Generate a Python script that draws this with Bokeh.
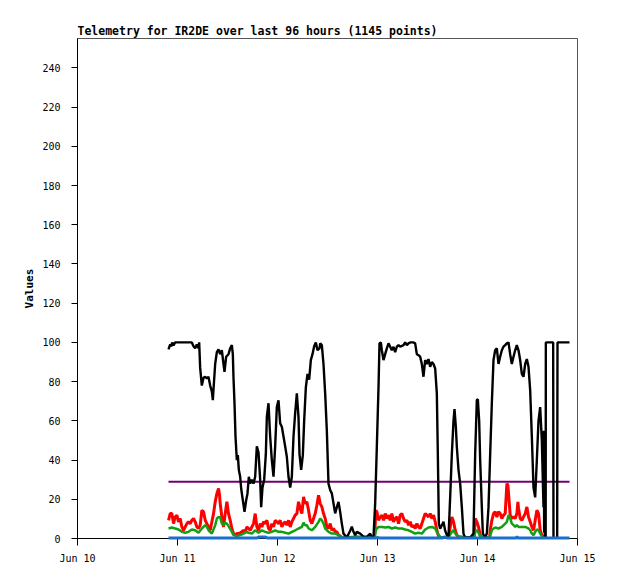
import pandas as pd
from bokeh.plotting import figure
from bokeh.models import FixedTicker, DatetimeTickFormatter, Range1d
from bokeh.embed import file_html
from bokeh.resources import INLINE

BASE = "2024-06-10"
day_ticks = ["2024-06-10", "2024-06-11", "2024-06-12", "2024-06-13", "2024-06-14", "2024-06-15"]
y_ticks = [0, 20, 40, 60, 80, 100, 120, 140, 160, 180, 200, 220, 240]
title_text = "Telemetry for IR2DE over last 96 hours (1145 points)"

# (hours since Jun 10 00:00, value)
black_pts = [
    (21.84, 96.4), (22.24, 99), (22.48, 98), (22.72, 100), (23.04, 98.5), (23.44, 100), (27.44, 100),
    (27.84, 98), (28.24, 97), (28.64, 99), (29.04, 97), (29.2, 100), (29.44, 87), (29.84, 78),
    (30.24, 82), (30.64, 82.5), (31.04, 81.6), (31.44, 82.5), (31.84, 78), (32.24, 75), (32.48, 70.6),
    (32.64, 76), (33.04, 89), (33.44, 95), (33.84, 96.4), (34.24, 94), (34.64, 96), (35.04, 89),
    (35.28, 85), (35.68, 92.7), (36.24, 94), (36.64, 97), (37.04, 98.6), (37.28, 94), (37.44, 82),
    (37.68, 69), (37.92, 52), (38.24, 40), (38.48, 42.5), (38.72, 35), (39.04, 31.5), (39.28, 25.5),
    (39.68, 19.5), (40.08, 13.6), (40.48, 19.5), (40.8, 23), (41.12, 31.5), (41.44, 28), (41.84, 30),
    (42.24, 28), (42.64, 31.5), (43.04, 47), (43.44, 44), (43.84, 30), (44.08, 16), (44.4, 26),
    (44.8, 30), (45.2, 43), (45.44, 62), (45.84, 69), (46.24, 52), (46.64, 40), (47.04, 31.5),
    (47.44, 47), (47.84, 67), (48.24, 70.5), (48.64, 58.7), (49.04, 57), (49.44, 52), (49.84, 47),
    (50.24, 41.7), (50.64, 31.5), (51.04, 26), (51.44, 31.5), (51.84, 52), (52.24, 64), (52.64, 74),
    (53.04, 62), (53.28, 43), (53.68, 35), (54.08, 42.5), (54.4, 60), (54.8, 77), (55.2, 84),
    (55.6, 81), (56.0, 91), (56.4, 94), (56.8, 98), (57.2, 100), (57.6, 96), (58.08, 97),
    (58.24, 99.5), (58.64, 98.6), (59.04, 89), (59.44, 74), (59.84, 55), (60.24, 28), (60.64, 24.7),
    (61.04, 23), (61.44, 17.9), (61.84, 12.8), (62.24, 16), (62.64, 18.7), (63.04, 13.6), (63.44, 7.6),
    (63.84, 2.5), (64.64, 0.5), (65.44, 4), (65.84, 6), (66.24, 3.4), (66.64, 1.7), (67.04, 3.4),
    (67.84, 2.5), (68.64, 1), (69.44, 0.8), (70.24, 2.5), (70.64, 0.5), (71.04, 0.8), (71.44, 17.9),
    (71.84, 46.8), (72.24, 77), (72.48, 99.5), (72.8, 100), (73.04, 96), (73.44, 91), (73.84, 94),
    (74.24, 97), (74.64, 99.5), (75.04, 97.8), (75.44, 96), (75.84, 97.8), (76.24, 95), (76.64, 97.8),
    (77.04, 98.6), (77.44, 97.8), (78.24, 98.6), (78.64, 100), (79.04, 98.6), (79.44, 99.5),
    (79.84, 100), (80.64, 100), (81.04, 99.5), (81.44, 94), (81.84, 93.5), (82.24, 92.7), (82.64, 89),
    (83.04, 82.5), (83.44, 91), (83.84, 89), (84.24, 91.5), (84.64, 87.6), (85.04, 90), (85.44, 89),
    (85.84, 86.7), (86.24, 74), (86.48, 43), (86.72, 7.6), (87.04, 5), (87.44, 6.8), (87.84, 8.5),
    (88.24, 4), (88.64, 1.7), (89.04, 0.8), (89.44, 21), (89.84, 43), (90.24, 60), (90.48, 66),
    (90.8, 57), (91.04, 46.8), (91.44, 35), (91.84, 28), (92.24, 16), (92.64, 2.5), (93.04, 0.5),
    (94.24, 0.5), (95.04, 2.5), (95.44, 43), (95.84, 70.6), (96.08, 71), (96.4, 60), (96.64, 40),
    (97.04, 16), (97.28, 2.5), (97.84, 0.8), (98.24, 2.5), (98.64, 16), (99.04, 43), (99.44, 69),
    (99.84, 91), (100.24, 96), (100.64, 97), (101.04, 89), (101.44, 92.7), (101.84, 96), (102.24, 97.8),
    (102.64, 98.6), (103.04, 99.5), (103.44, 100), (103.84, 94), (104.24, 89), (104.64, 92.7),
    (105.04, 96), (105.44, 98.6), (105.84, 96), (106.24, 91), (106.64, 84), (107.04, 82.5),
    (107.44, 89), (107.84, 91.5), (108.24, 87.6), (108.64, 75.7), (109.04, 52), (109.44, 26),
    (109.84, 21), (110.24, 40), (110.64, 60), (111.04, 67), (111.44, 50), (111.84, 16), (111.92, 55),
    (112.0, 3), (112.08, 50), (112.16, 0), (112.36, 0), (112.4, 100), (114.16, 100), (114.24, 0),
    (115.12, 0), (115.2, 100), (118.08, 100),
]

red_pts = [
    (21.85, 9.3), (22.25, 12.7), (22.65, 12.7), (23.05, 7.6), (23.45, 11.0), (23.85, 11.9), (24.25, 8.5),
    (24.65, 10.2), (25.05, 5.9), (25.45, 4.2), (25.85, 5.9), (26.25, 7.6), (26.65, 8.5), (27.05, 7.6),
    (27.45, 9.3), (27.85, 10.2), (28.25, 8.5), (28.65, 5.9), (29.05, 5.1), (29.45, 6.8), (29.85, 14.4),
    (30.25, 13.6), (30.65, 9.3), (31.05, 7.6), (31.45, 5.9), (31.85, 4.2), (32.25, 8.5), (32.65, 12.7),
    (33.05, 18.7), (33.45, 22.9), (33.85, 25.5), (34.09, 22.1), (34.25, 17.8), (34.65, 11.0),
    (35.05, 5.9), (35.45, 12.7), (35.85, 18.7), (36.25, 12.7), (36.65, 9.3), (37.05, 5.1), (37.45, 2.5),
    (37.85, 1.7), (38.25, 2.5), (38.65, 2.5), (39.05, 2.9), (39.45, 3.4), (39.85, 4.2), (40.25, 3.4),
    (40.65, 5.9), (41.05, 5.1), (41.45, 4.2), (41.85, 5.9), (42.25, 7.6), (42.65, 12.7), (43.05, 5.9),
    (43.45, 4.2), (43.85, 7.6), (44.25, 5.9), (44.65, 8.5), (45.05, 7.6), (45.45, 9.3), (45.85, 5.1),
    (46.25, 4.2), (46.65, 7.6), (47.05, 5.9), (47.45, 9.3), (47.85, 8.5), (48.25, 7.6), (48.65, 9.3),
    (49.05, 5.9), (49.45, 7.6), (49.85, 8.5), (50.25, 6.8), (50.65, 9.3), (51.05, 5.9), (51.45, 8.5),
    (51.85, 10.2), (52.25, 11.9), (52.65, 12.7), (53.05, 18.7), (53.45, 15.3), (53.85, 12.7),
    (54.25, 21.2), (54.65, 17.8), (55.05, 18.7), (55.45, 14.4), (55.85, 9.3), (56.25, 7.6),
    (56.65, 10.2), (57.05, 12.7), (57.45, 17.0), (57.85, 22.1), (58.25, 17.8), (58.65, 16.1),
    (59.05, 12.7), (59.45, 10.2), (59.85, 5.9), (60.25, 5.1), (60.65, 7.6), (61.05, 4.2), (61.45, 5.1),
    (61.85, 3.4), (62.25, 3.4), (62.65, 1.7), (63.05, 1.2), (63.45, 0.6), (65.0, 0.5), (67.0, 0.8),
    (69.0, 0.5), (71.3, 0.5), (71.61, 14.4), (71.85, 13.6), (72.25, 9.3), (72.65, 11.0), (73.05, 11.9),
    (73.45, 9.3), (73.85, 12.7), (74.25, 10.2), (74.65, 11.9), (75.05, 9.3), (75.45, 12.7), (75.85, 8.5),
    (76.25, 10.2), (76.65, 11.0), (77.05, 7.6), (77.45, 11.9), (77.85, 12.7), (78.25, 10.2),
    (78.65, 8.5), (79.05, 9.3), (79.45, 6.8), (79.85, 8.5), (80.25, 5.9), (80.65, 6.8), (81.05, 5.1),
    (81.45, 7.6), (81.85, 5.9), (82.25, 5.1), (82.65, 7.6), (83.05, 10.2), (83.45, 12.7), (83.85, 11.9),
    (84.25, 11.0), (84.65, 12.7), (85.05, 10.2), (85.45, 11.9), (85.85, 8.5), (86.25, 4.2),
    (86.65, 1.2), (87.05, 0.6), (88.0, 0.5), (89.0, 0.5), (89.45, 5.9), (89.85, 11.0), (90.25, 8.5),
    (90.65, 4.2), (91.05, 1.7), (91.45, 0.8), (93.0, 0.5), (95.2, 0.5), (95.45, 10.2), (95.85, 8.5),
    (96.25, 5.9), (96.65, 1.7), (97.05, 0.8), (98.0, 0.5), (98.9, 0.5), (99.05, 4.2), (99.45, 9.3),
    (99.85, 12.7), (100.25, 13.6), (100.65, 11.0), (101.05, 13.6), (101.45, 12.7), (101.85, 10.2),
    (102.25, 11.9), (102.65, 12.7), (103.05, 28.0), (103.29, 27.2), (103.45, 22.9), (103.85, 11.9),
    (104.25, 10.2), (104.65, 11.0), (105.05, 10.2), (105.45, 12.7), (105.69, 18.7), (105.85, 15.3),
    (106.25, 10.2), (106.65, 9.3), (107.05, 11.0), (107.45, 12.7), (107.85, 16.1), (108.25, 11.0),
    (108.65, 8.5), (109.05, 5.9), (109.45, 4.2), (109.85, 9.3), (110.25, 14.4), (110.65, 12.7),
    (111.05, 4.2), (111.45, 1.7), (111.85, 0.5), (112.2, 0.3),
]

green_pts = [
    (21.85, 5.1), (22.65, 5.6), (23.45, 5.1), (24.25, 4.6), (25.05, 3.4), (25.85, 2.9), (26.65, 3.4),
    (27.45, 4.6), (28.25, 4.2), (29.05, 2.9), (29.85, 5.1), (30.65, 6.8), (31.05, 5.9), (31.45, 4.2),
    (32.25, 2.5), (33.05, 6.8), (33.45, 10.2), (33.85, 11.0), (34.25, 10.7), (34.65, 7.6), (35.05, 6.8),
    (35.45, 8.0), (35.85, 7.6), (36.25, 6.3), (37.05, 3.4), (37.45, 1.7), (38.25, 1.2), (39.05, 1.7),
    (39.85, 2.5), (40.65, 3.4), (41.05, 2.9), (41.85, 2.5), (42.65, 4.2), (43.45, 2.9), (44.25, 4.2),
    (45.05, 3.4), (45.85, 2.9), (46.65, 3.4), (47.45, 4.2), (48.25, 3.4), (49.05, 3.4), (49.85, 2.9),
    (50.65, 2.5), (51.45, 3.4), (52.25, 4.2), (53.05, 5.1), (53.85, 5.9), (54.25, 8.0), (54.65, 6.8),
    (55.05, 6.8), (55.45, 5.1), (56.25, 4.2), (57.05, 5.9), (57.85, 8.5), (58.25, 10.2), (58.65, 9.3),
    (59.05, 7.6), (59.45, 5.1), (60.25, 3.4), (61.05, 2.5), (61.85, 2.5), (62.65, 1.7), (63.05, 0.8),
    (65.0, 0.5), (67.0, 0.8), (69.0, 0.5), (71.3, 0.5), (71.61, 4.2), (71.85, 5.1), (72.25, 5.9),
    (73.05, 5.9), (73.85, 5.6), (74.65, 5.9), (75.45, 5.1), (76.25, 5.6), (77.05, 5.1), (77.85, 5.1),
    (78.65, 4.6), (79.45, 4.2), (80.25, 3.4), (81.05, 2.5), (81.85, 2.9), (82.65, 2.5), (83.45, 4.6),
    (84.25, 5.6), (85.05, 5.9), (85.85, 5.1), (86.25, 3.4), (86.65, 1.7), (87.05, 0.8), (88.0, 0.5),
    (89.0, 0.5), (89.85, 3.4), (90.25, 4.2), (90.65, 2.5), (91.45, 1.2), (93.0, 0.5), (95.2, 0.5),
    (95.45, 3.4), (95.85, 4.2), (96.25, 2.9), (96.65, 1.2), (97.5, 0.5), (98.9, 0.5), (99.45, 4.2),
    (99.85, 5.1), (100.25, 5.6), (101.05, 5.1), (101.85, 5.9), (102.65, 7.6), (103.05, 8.5),
    (103.45, 11.9), (103.85, 10.2), (104.25, 7.6), (104.65, 6.8), (105.05, 5.9), (105.45, 6.8),
    (105.85, 5.9), (106.65, 5.9), (107.45, 5.9), (108.25, 5.1), (108.65, 4.2), (109.05, 2.5),
    (109.45, 1.7), (109.85, 3.4), (110.25, 4.6), (110.65, 4.2), (111.05, 2.5), (111.45, 1.2),
    (111.85, 0.5),
]

blue_pts = [
    (21.84, 0.2), (43.0, 0.2), (43.6, 0.8), (45.0, 0.8), (45.6, 0.2), (71.5, 0.2), (72.0, 0.6),
    (72.6, 0.2), (87.5, 0.2), (88.0, 0.8), (88.8, 0.2), (105.2, 0.2), (105.5, 0.8), (105.8, 0.2),
    (118.08, 0.2),
]

purple_pts = [(21.84, 28.9), (118.08, 28.9)]

base = pd.Timestamp(BASE)


def split(pts):
    hs = [p[0] for p in pts]
    vs = [p[1] for p in pts]
    xs = base + pd.to_timedelta(hs, unit="h")
    return xs, vs


FONT = "DejaVu Sans Mono"

p = figure(
    width=610, height=571, x_axis_type="datetime",
    output_backend="svg", toolbar_location=None,
    min_border_left=77, min_border_right=33, min_border_top=38, min_border_bottom=33,
    title=title_text,
)
p.x_range = Range1d(pd.Timestamp(day_ticks[0]), pd.Timestamp(day_ticks[-1]))
p.y_range = Range1d(0, 255)

p.title.text_font = FONT
p.title.text_font_size = "11.5px"
p.title.text_font_style = "bold"
p.title.align = "left"
p.title.standoff = 1
p.title.text_color = "black"

p.xgrid.visible = False
p.ygrid.visible = False
p.outline_line_color = "#555555"
p.outline_line_width = 1
p.background_fill_color = "white"
p.border_fill_color = "white"

p.xaxis.ticker = FixedTicker(ticks=[pd.Timestamp(d).value / 1e6 for d in day_ticks])
fmt = "%b %d"
p.xaxis.formatter = DatetimeTickFormatter(
    microseconds=fmt, milliseconds=fmt, seconds=fmt, minsec=fmt, minutes=fmt,
    hourmin=fmt, hours=fmt, days=fmt, months=fmt, years=fmt,
)
p.yaxis.ticker = FixedTicker(ticks=y_ticks)

for ax in (p.xaxis[0], p.yaxis[0]):
    ax.axis_line_color = "black"
    ax.axis_line_width = 1
    ax.major_tick_line_color = "black"
    ax.major_tick_in = 0
    ax.minor_tick_line_color = None
    ax.major_label_text_font = FONT
    ax.major_label_text_font_size = "10px"
    ax.major_label_text_color = "black"

p.xaxis.major_tick_out = 7
p.xaxis.major_label_standoff = 7
p.yaxis.major_tick_out = 6
p.yaxis.major_label_standoff = 11
p.yaxis.axis_label = "Values"
p.yaxis.axis_label_text_font = FONT
p.yaxis.axis_label_text_font_size = "11px"
p.yaxis.axis_label_text_font_style = "bold"
p.yaxis.axis_label_text_color = "black"
p.yaxis.axis_label_standoff = 3

x, v = split(red_pts)
p.line(x, v, line_color="#ff0000", line_width=3)
x, v = split(green_pts)
p.line(x, v, line_color="#11a011", line_width=2.5)
x, v = split(purple_pts)
p.line(x, v, line_color="#700070", line_width=2)
x, v = split(black_pts)
p.line(x, v, line_color="black", line_width=2.4)
x, v = split(blue_pts)
p.line(x, v, line_color="#1a6fcc", line_width=3, level="overlay")

open("out.html", "w").write(file_html(p, INLINE))
